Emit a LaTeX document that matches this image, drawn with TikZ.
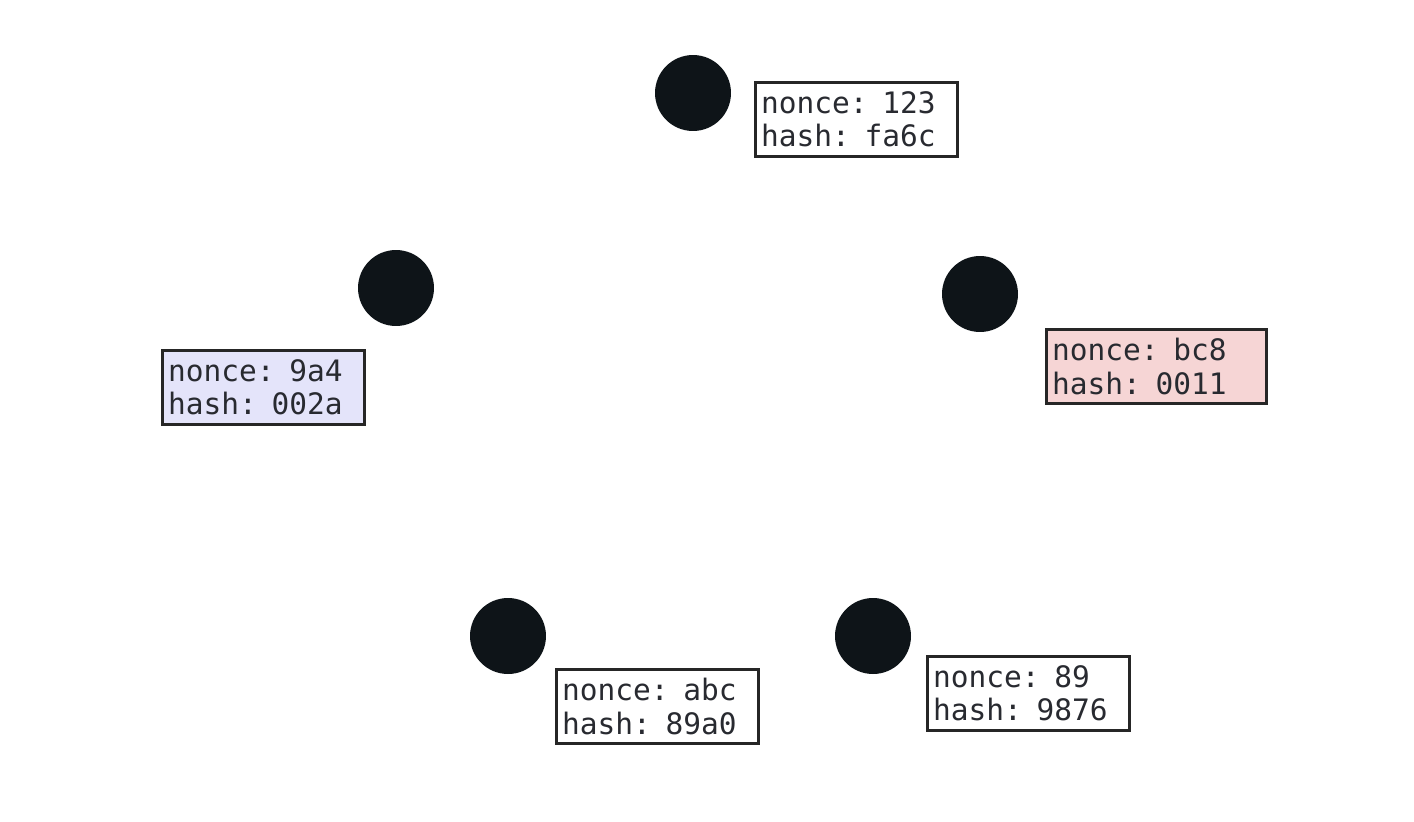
\documentclass[tikz,border=0pt]{standalone}
\usepackage{fontspec}
\setmonofont{DejaVu Sans Mono}
\usepackage{tikz}
\definecolor{minerblack}{RGB}{14,20,24}
\definecolor{textgray}{RGB}{40,42,48}
\definecolor{winblue}{RGB}{228,228,250}
\definecolor{winred}{RGB}{246,213,213}
\tikzstyle{miner} = [circle, fill=minerblack, minimum size=1.52cm, inner sep=0pt]
\tikzstyle{block} = [rectangle, draw=black!85, line width=1.7pt, fill=white, text width=3.82cm, inner xsep=0.11cm, inner ysep=0.18cm, align=left, text=textgray, font=\ttfamily\fontsize{16.8}{19}\selectfont]

\begin{document}
\begin{tikzpicture}[x=0.02cm, y=-0.02cm]

	\useasboundingbox (0,0) rectangle (1414,822);

	\node (top) [miner] at (693,93) {};
	\node (left) [miner] at (396,288) {};
	\node (right) [miner] at (980,294) {};
	\node (botl) [miner] at (508,636) {};
	\node (botr) [miner] at (873,636) {};

	\node (topblk) [block] at (856.5,119.5) {nonce: 123\\hash: fa6c};
	\node (leftblk) [block, fill=winblue] at (263.5,387.5) {nonce: 9a4\\hash: 002a};
	\node (rightblk) [block, fill=winred, text width=4.18cm] at (1156.5,366.5) {nonce: bc8\\hash: 0011};
	\node (botlblk) [block] at (657.5,706.5) {nonce: abc\\hash: 89a0};
	\node (botrblk) [block] at (1028.5,693.5) {nonce: 89\\hash: 9876};

\end{tikzpicture}
\end{document}
